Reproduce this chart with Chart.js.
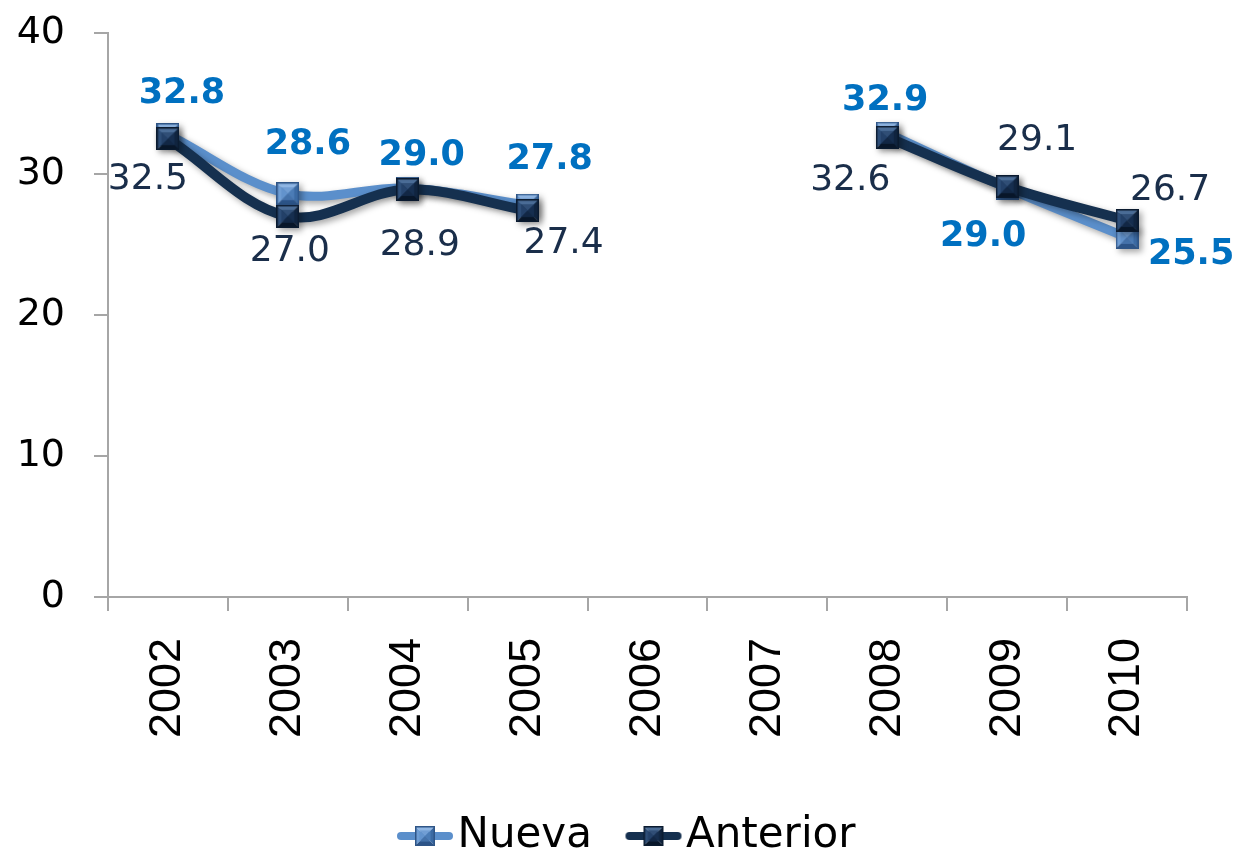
<!DOCTYPE html>
<html><head><meta charset="utf-8">
<script src="https://cdn.jsdelivr.net/npm/chart.js@4/dist/chart.umd.min.js"></script>
<style>html,body{margin:0;padding:0;background:#fff;overflow:hidden}</style>
</head><body>
<canvas id="c" width="1239" height="856" style="width:1239px;height:856px;display:block"></canvas>
<script>
const years = ['2002','2003','2004','2005','2006','2007','2008','2009','2010'];
const nueva = [32.8, 28.6, 29.0, 27.8, null, null, 32.9, 29.0, 25.5];
const anterior = [32.5, 27.0, 28.9, 27.4, null, null, 32.6, 29.1, 26.7];
const seriesNames = ['Nueva', 'Anterior'];
const yMin = 0, yMax = 40, yStep = 10;

// label placement (offsets from the point, in px)
const nuevaLabelOffsets = [[14,-41],[20,-49],[14,-32],[22,-45],null,null,[-2,-32],[-24,49],[64,17]];
const anteriorLabelOffsets = [[-20,41],[2,35],[12,56],[36,33],null,null,[-37,43],[30,-46],[43,-30]];

function marker(size, c) {
  const cv = document.createElement('canvas');
  cv.width = cv.height = size;
  const g = cv.getContext('2d');
  const s = size, m = s / 2;
  const tri = (pts, col) => { g.beginPath(); g.moveTo(pts[0][0], pts[0][1]); for (let k = 1; k < pts.length; k++) g.lineTo(pts[k][0], pts[k][1]); g.closePath(); g.fillStyle = col; g.fill(); };
  tri([[0,0],[s,0],[m,m]], c.top);
  tri([[0,0],[0,s],[m,m]], c.left);
  tri([[s,0],[s,s],[m,m]], c.right);
  tri([[0,s],[s,s],[m,m]], c.bottom);
  const i = s * 0.22;
  g.fillStyle = c.center; g.globalAlpha = 0.55; g.fillRect(i, i, s - 2 * i, s - 2 * i); g.globalAlpha = 1;
  g.strokeStyle = c.edge; g.lineWidth = 1.5; g.strokeRect(0.75, 0.75, s - 1.5, s - 1.5);
  return cv;
}
const nuevaCols = {top:'#8fb6e4', left:'#6e9dd4', right:'#3b6aa3', bottom:'#2c5488', center:'#5a8bc6', edge:'#2f5586'};
const anteriorCols = {top:'#4a6c96', left:'#2d4d77', right:'#10243f', bottom:'#081629', center:'#1c375c', edge:'#0a1a2f'};
const nuevaMarker = marker(23, nuevaCols);
const anteriorMarker = marker(23, anteriorCols);

function legendImg(lineCol, cols) {
  const w = 58, h = 24;
  const cv = document.createElement('canvas');
  cv.width = w; cv.height = h;
  const g = cv.getContext('2d');
  g.strokeStyle = lineCol; g.lineWidth = 8; g.lineCap = 'round';
  g.beginPath(); g.moveTo(5, h / 2); g.lineTo(w - 5, h / 2); g.stroke();
  g.drawImage(marker(20, cols), (w - 20) / 2, (h - 20) / 2);
  return cv;
}
const legendImgs = [legendImg('#5b8fcb', nuevaCols), legendImg('#15304f', anteriorCols)];

const shadowPlugin = {
  id: 'shadow',
  beforeDatasetsDraw(chart) {
    const ctx = chart.ctx; ctx.save();
    ctx.shadowColor = 'rgba(0,0,0,0.35)'; ctx.shadowBlur = 6; ctx.shadowOffsetX = 3; ctx.shadowOffsetY = 3;
  },
  afterDatasetsDraw(chart) { chart.ctx.restore(); }
};

// nudge the centred legend to the reference's horizontal position
const legendShift = {
  id: 'legendShift',
  afterLayout(chart) {
    const lg = chart.legend;
    if (lg) { lg.left += 41; lg.right += 41; }
  }
};

const labelPlugin = {
  id: 'pointLabels',
  afterDraw(chart) {
    const ctx = chart.ctx;
    chart.data.datasets.forEach((ds, di) => {
      const meta = chart.getDatasetMeta(di);
      ctx.save();
      ctx.font = (ds.labelBold ? 'bold ' : '') + ds.labelSize + 'px "DejaVu Sans"';
      ctx.fillStyle = ds.labelColor;
      ctx.textAlign = 'center'; ctx.textBaseline = 'middle';
      ds.data.forEach((v, i) => {
        if (v === null) return;
        const el = meta.data[i];
        const off = ds.labelOffsets[i] || [0, -30];
        ctx.fillText(v.toFixed(1), el.x + off[0], el.y + off[1]);
      });
      ctx.restore();
    });
  }
};

new Chart(document.getElementById('c'), {
  type: 'line',
  data: {
    labels: years,
    datasets: [
      { label: seriesNames[0], data: nueva, borderColor: '#5b8fcb', backgroundColor: '#5b8fcb', borderWidth: 9,
        tension: 0.35, pointStyle: nuevaMarker, pointRadius: 11, order: 1, spanGaps: false,
        labelColor: '#0070C0', labelBold: true, labelSize: 35, labelOffsets: nuevaLabelOffsets },
      { label: seriesNames[1], data: anterior, borderColor: '#15304f', backgroundColor: '#15304f', borderWidth: 10,
        tension: 0.35, pointStyle: anteriorMarker, pointRadius: 11, order: 0, spanGaps: false,
        labelColor: '#1a2e4a', labelBold: false, labelSize: 36, labelOffsets: anteriorLabelOffsets }
    ]
  },
  options: {
    responsive: false, animation: false, devicePixelRatio: 1,
    layout: { padding: { top: 33, right: 52, left: 0, bottom: -11 } },
    plugins: {
      tooltip: { enabled: false },
      legend: {
        position: 'bottom',
        labels: {
          usePointStyle: true, pointStyleWidth: 23, padding: 50, color: '#000',
          font: { family: '"DejaVu Sans"', size: 42 },
          generateLabels(chart) {
            return chart.data.datasets.map((d, i) => ({
              text: d.label, pointStyle: legendImgs[i], fillStyle: 'rgba(0,0,0,0)', strokeStyle: 'rgba(0,0,0,0)',
              lineWidth: 0, hidden: false, datasetIndex: i, fontColor: '#000'
            }));
          }
        }
      }
    },
    scales: {
      x: {
        offset: true,
        grid: { offset: true, drawOnChartArea: false, drawTicks: true, tickLength: 14, color: '#a6a6a6', lineWidth: 2 },
        border: { color: '#a6a6a6', width: 2 },
        ticks: { minRotation: 90, maxRotation: 90, autoSkip: false, color: '#000', padding: 27,
          font: { family: '"Liberation Sans"', size: 45 } },
        afterFit(s) { s.height = 168; }
      },
      y: {
        min: yMin, max: yMax,
        grid: { drawOnChartArea: false, drawTicks: true, tickLength: 14, color: '#a6a6a6', lineWidth: 2 },
        border: { color: '#a6a6a6', width: 2 },
        ticks: { stepSize: yStep, color: '#000', padding: 29, font: { family: '"DejaVu Sans"', size: 38 } },
        afterFit(s) { s.width = 108; s.paddingTop = 0; s.paddingBottom = 0; }
      }
    }
  },
  plugins: [shadowPlugin, legendShift, labelPlugin]
});
</script>
</body></html>
